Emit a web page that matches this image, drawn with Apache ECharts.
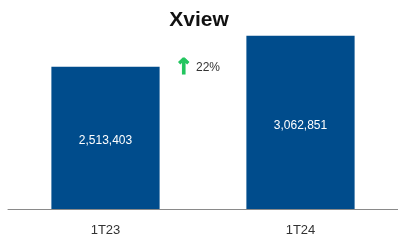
<!DOCTYPE html>
<html>
<head>
<meta charset="utf-8">
<script src="https://cdn.jsdelivr.net/npm/echarts@6/dist/echarts.min.js"></script>
<style>
  html, body { margin: 0; padding: 0; background: #fff; }
  #chart { width: 398px; height: 244px; }
</style>
</head>
<body>
<div id="chart"></div>
<script>
// data
var categories = ['1T23', '1T24'];
var values = [2513403, 3062851];
var growthLabel = '22%';

var chart = echarts.init(document.getElementById('chart'));
chart.setOption({
    animation: false,
    title: {
        text: 'Xview',
        left: 'center',
        top: 5,
        textStyle: {
            fontFamily: 'Liberation Sans',
            fontSize: 21,
            fontWeight: 'bold',
            color: '#111'
        }
    },
    grid: { left: 8, right: -6, top: 11, bottom: 35 },
    xAxis: {
        type: 'category',
        data: categories,
        axisTick: { show: false },
        axisLine: { lineStyle: { color: '#8a8a8a', width: 1 } },
        axisLabel: {
            margin: 15,
            fontFamily: 'Liberation Sans',
            fontSize: 13,
            color: '#333'
        }
    },
    yAxis: {
        type: 'value',
        min: 0,
        max: 3500000,
        show: false,
        splitLine: { show: false }
    },
    series: [{
        type: 'bar',
        data: values,
        barWidth: '55.5%',
        itemStyle: { color: '#004C8C' },
        label: {
            show: true,
            position: 'inside',
            offset: [0, 3],
            color: '#fff',
            fontFamily: 'Liberation Sans',
            fontSize: 12,
            formatter: function (p) {
                return p.value.toLocaleString('en-US');
            }
        }
    }],
    graphic: [{
        type: 'text',
        left: 174,
        top: 57,
        style: {
            text: '↑',
            fill: '#22c55e',
            stroke: '#22c55e',
            lineWidth: 1,
            fontSize: 22,
            fontWeight: 'bold',
            fontFamily: 'DejaVu Sans'
        }
    }, {
        type: 'text',
        left: 196,
        top: 62,
        style: {
            text: growthLabel,
            fill: '#333',
            fontSize: 12,
            fontFamily: 'Liberation Sans'
        }
    }]
});
</script>
</body>
</html>
